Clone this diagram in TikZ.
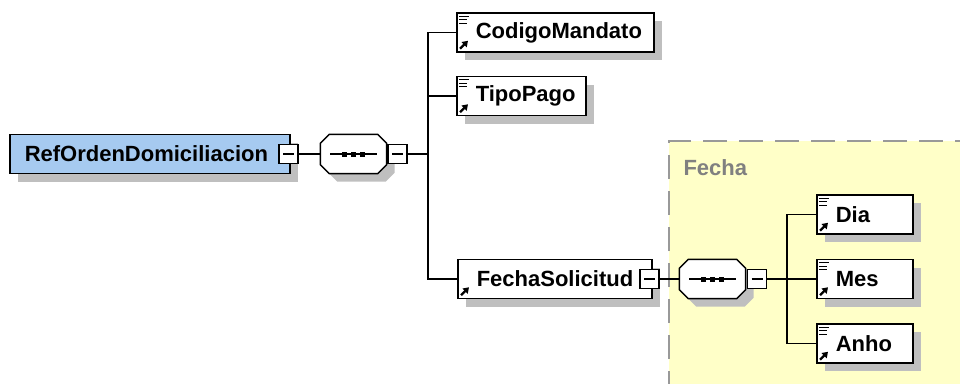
\documentclass[tikz,border=0pt]{standalone}
\usepackage{fontspec}
\setmainfont{Liberation Sans}
\usepackage{xcolor}
\usepackage{tikz}
\usetikzlibrary{arrows.meta, positioning, shadows}

\definecolor{elemblue}{RGB}{166,202,240}
\definecolor{groupyellow}{RGB}{255,255,200}

\tikzset{
  lpad/.initial=19pt,
  shade/.style={drop shadow={shadow xshift=8pt, shadow yshift=-8pt, fill=gray!50, opacity=1}},
  elem/.style={draw, line width=1.5pt, fill=white, anchor=west, shade, minimum height=39pt,
    inner xsep=0pt, inner ysep=0pt, text width=#1, align=left,
    font=\fontsize{22}{24}\selectfont\bfseries, execute at begin node={\hspace*{\pgfkeysvalueof{/tikz/lpad}}}},
  minus/.style={draw, line width=1.5pt, fill=white, minimum size=19pt, inner sep=0pt,
    path picture={\draw[line width=1.5pt] ([xshift=4pt]path picture bounding box.west) -- ([xshift=-4pt]path picture bounding box.east);}},
  seq/.style={minimum width=66pt, minimum height=39pt, inner sep=0pt},
  conn/.style={line width=1.5pt},
  grouplbl/.style={anchor=west, text=gray, font=\fontsize{22}{24}\selectfont\bfseries}
}

\begin{document}
\begin{tikzpicture}[x=1pt, y=-1pt]
            \useasboundingbox (0,0) rectangle (960,383);

            \fill[groupyellow] (669,141) rectangle (975,395);
            \draw[gray!80, line width=2pt, dash pattern=on 24pt off 12pt] (669,395) -- (669,141) -- (975,141);
            \node[grouplbl] (fechalbl) at (680,168) {Fecha};

            \node[elem=280pt, fill=elemblue, lpad=15pt] (root) at (9,154) {RefOrdenDomiciliacion};
            \node[seq] (seq1) at (353.5,154) {};
            \node[seq] (seq2) at (712.5,279) {};

            \foreach \s in {seq1,seq2} {
                \draw[line width=1.5pt, fill=white, shade]
                ([shift={(9,0)}]\s.north west) -- ([shift={(-9,0)}]\s.north east)
                -- ([shift={(0,9)}]\s.north east) -- ([shift={(0,-9)}]\s.south east)
                -- ([shift={(-9,0)}]\s.south east) -- ([shift={(9,0)}]\s.south west)
                -- ([shift={(0,-9)}]\s.south west) -- ([shift={(0,9)}]\s.north west) -- cycle;
                \draw[conn] ([xshift=10pt]\s.west) -- ([xshift=-10pt]\s.east);
                \foreach \dx in {-9,0,9}
                    \fill ([xshift=\dx pt]\s.center) +(-2.5,-2.5) rectangle +(2.5,2.5);
            }

            \node[minus] (rootm) at (288.5,154) {};
            \node[minus] (seq1m) at (397.5,154) {};
            \coordinate (fork1) at (428,154);

            \node[elem=197pt] (codigo) at (456,32.5) {CodigoMandato};
            \node[elem=129pt] (tipo) at (456,96) {TipoPago};
            \node[elem=194pt] (fechasol) at (457,279) {FechaSolicitud};
            \node[minus] (fechasolm) at (649.5,279) {};

            \node[minus] (seq2m) at (757,279) {};
            \coordinate (fork2) at (787,279);

            \node[elem=96pt] (dia) at (816,214.5) {Dia};
            \node[elem=96pt] (mes) at (816,279) {Mes};
            \node[elem=96pt] (anho) at (816,343.5) {Anho};

            \draw[conn] (rootm) -- (seq1) (seq1m) -- (fork1)
            (fork1) |- (codigo.west) (fork1) |- (tipo.west) (fork1) |- (fechasol.west);
            \draw[conn] (fechasolm) -- (seq2) (seq2m) -- (fork2)
            (fork2) |- (dia.west) (fork2) |- (mes.west) (fork2) |- (anho.west);

            \foreach \n in {codigo,tipo,dia,mes,anho} {
                \draw[line width=1.4pt] ([shift={(3,4)}]\n.north west) -- ++(10,0)
                ([shift={(3,7.5)}]\n.north west) -- ++(8,0)
                ([shift={(3,11)}]\n.north west) -- ++(8,0);
            }
            \foreach \n in {codigo,tipo,fechasol,dia,mes,anho}
                \draw[line width=2.2pt, -{Triangle[length=5.5pt,width=7pt]}] ([shift={(4,-4)}]\n.south west) -- ++(8,-8);
        \end{tikzpicture}
\end{document}
